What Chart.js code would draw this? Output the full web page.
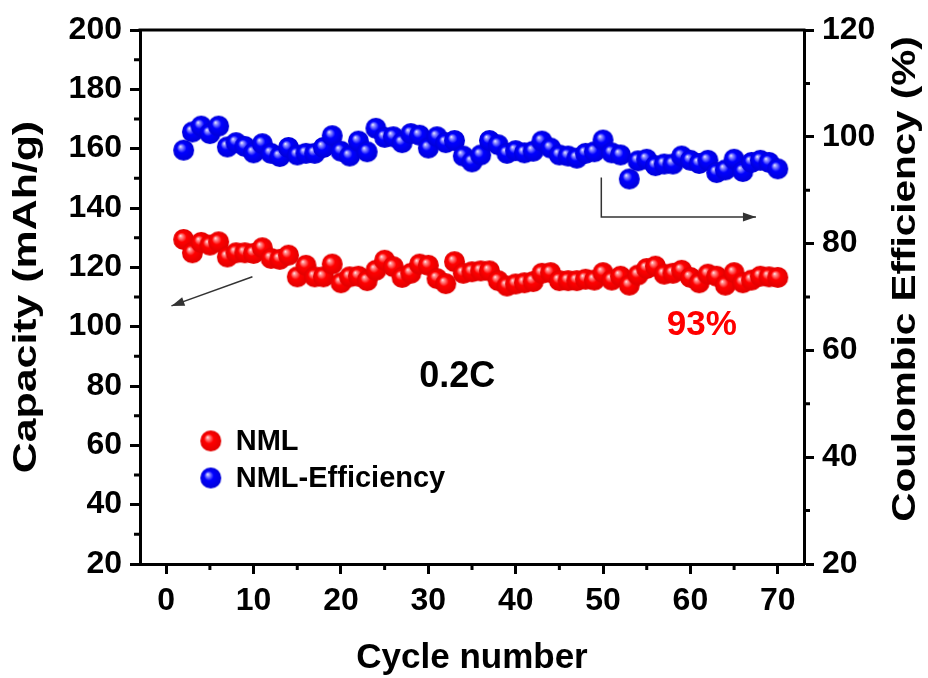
<!DOCTYPE html>
<html>
<head>
<meta charset="utf-8">
<script src="https://cdn.jsdelivr.net/npm/chart.js@4.4.0/dist/chart.umd.min.js"></script>
<style>
  html, body { margin: 0; padding: 0; background: #fff; }
  #wrap { width: 928px; height: 678px; }
</style>
</head>
<body>
<div id="wrap"><canvas id="graphCanvas" width="928" height="678"></canvas></div>
<script>
// ---------------- DATA ----------------
const cycles = [2,3,4,5,6,7,8,9,10,11,12,13,14,15,16,17,18,19,20,21,22,23,24,25,26,27,28,29,30,31,32,33,34,35,36,
  37,38,39,40,41,42,43,44,45,46,47,48,49,50,51,52,53,54,55,56,57,58,59,60,61,62,63,64,65,66,67,68,69,70];

const capacity = [129.4,124.9,128.4,127.5,128.6,123.5,124.9,124.9,124.7,126.6,123.0,122.7,124.1,116.8,120.7,116.8,116.8,121.1,114.8,116.8,
  117.0,115.5,119.0,122.4,120.2,116.6,118.0,121.1,120.7,116.2,114.5,121.9,118.0,118.5,118.8,
  118.8,115.5,113.7,114.4,114.8,115.2,118.0,118.2,115.5,115.5,115.5,116.0,115.7,118.2,115.7,
  117.0,114.0,117.4,119.6,120.4,117.7,118.0,119.0,116.6,114.8,117.7,117.0,114.0,118.2,114.8,115.7,117.0,116.8,116.6];

const efficiency = [97.5,100.9,102.0,100.6,102.0,98.1,98.9,98.2,97.0,98.7,96.9,96.3,98.0,96.6,96.9,96.9,98.0,100.2,97.3,96.4,
  99.2,97.2,101.6,99.9,100.0,98.9,100.6,100.3,97.9,100.0,98.9,99.3,96.4,95.3,96.6,
  99.3,98.5,96.9,97.4,97.0,97.3,99.2,97.9,96.6,96.4,96.0,96.9,97.2,99.4,97.0,
  96.6,92.1,95.5,95.8,94.6,94.9,94.9,96.4,95.6,95.0,95.6,93.3,93.8,95.8,93.5,95.2,95.6,95.2,94.0];

const xMinor = [5,15,25,35,45,55,65];
const yMinor = [30,50,70,90,110,130,150,170,190];
const y2Minor = [30,50,70,90,110];

// ---------------- BALL MARKERS ----------------
function makeBall(r, hi, mid, edge) {
    const s = Math.ceil(2 * r) + 2;
    const c = document.createElement('canvas');
    c.width = c.height = s;
    const g = c.getContext('2d');
    const cx = s / 2, cy = s / 2;
    const grd = g.createRadialGradient(cx - r * 0.32, cy - r * 0.36, 0, cx, cy, r);
    grd.addColorStop(0, '#ffffff');
    grd.addColorStop(0.12, hi);
    grd.addColorStop(0.45, mid);
    grd.addColorStop(1, edge);
    g.fillStyle = grd;
    g.beginPath();
    g.arc(cx, cy, r, 0, Math.PI * 2);
    g.fill();
    return c;
}
const redBall = makeBall(10.5, '#ffa0a0', '#ff0000', '#e00000');
const blueBall = makeBall(10.5, '#a8a8ff', '#0000ff', '#0000d8');

// ---------------- SETUP BLOCK ----------------
const data = {
    datasets: [{
        label: 'NML',
        data: cycles.map((c, i) => ({ x: c, y: capacity[i] })),
        yAxisID: 'y',
        pointStyle: redBall,
        showLine: false
    }, {
        label: 'NML-Efficiency',
        data: cycles.map((c, i) => ({ x: c, y: efficiency[i] })),
        yAxisID: 'y2',
        pointStyle: blueBall,
        showLine: false
    }]
};

const tickFont = { family: 'Liberation Sans', weight: 'bold', size: 32 };
const gridOpts = { drawOnChartArea: false, drawTicks: true, tickLength: 10, tickWidth: 3, tickColor: '#000' };
const borderOpts = { display: true, width: 3, color: '#000' };

// rotated title, stretched along its length like the original
function sideTitle(ctx, text, x, y, stretch) {
    ctx.save();
    ctx.translate(x, y);
    ctx.rotate(-Math.PI / 2);
    ctx.scale(stretch, 1);
    ctx.fillText(text, 0, 0);
    ctx.restore();
}

// draws frame top, minor ticks, titles, legend and annotations
const extras = {
    id: 'extras',
    afterDraw(chart) {
        const ctx = chart.ctx;
        const a = chart.chartArea;
        const sx = chart.scales.x, sy = chart.scales.y, sy2 = chart.scales.y2;
        ctx.save();
        ctx.strokeStyle = '#000';
        ctx.lineWidth = 3;
        ctx.beginPath();
        ctx.moveTo(a.left - 1.5, a.top);
        ctx.lineTo(a.right + 1.5, a.top);
        ctx.stroke();

        // minor ticks
        ctx.beginPath();
        xMinor.forEach(v => { const p = sx.getPixelForValue(v); ctx.moveTo(p, a.bottom); ctx.lineTo(p, a.bottom + 6); });
        yMinor.forEach(v => { const p = sy.getPixelForValue(v); ctx.moveTo(a.left, p); ctx.lineTo(a.left - 6, p); });
        y2Minor.forEach(v => { const p = sy2.getPixelForValue(v); ctx.moveTo(a.right, p); ctx.lineTo(a.right + 6, p); });
        ctx.stroke();

        // axis titles
        ctx.fillStyle = '#000';
        ctx.textAlign = 'center';
        ctx.textBaseline = 'middle';
        ctx.font = 'bold 35px "Liberation Sans"';
        ctx.fillText('Cycle number', (a.left + a.right) / 2, 658);
        ctx.font = 'bold 34px "Liberation Sans"';
        sideTitle(ctx, 'Capacity (mAh/g)', 27, (a.top + a.bottom) / 2, 1.26);
        sideTitle(ctx, 'Coulombic Efficiency (%)', 906, 279, 1.19);

        // labels in the plot
        ctx.font = 'bold 36px "Liberation Sans"';
        ctx.fillText('0.2C', sx.getPixelForValue(33.3), sy.getPixelForValue(83));
        ctx.fillStyle = '#ff0000';
        ctx.font = 'bold 35px "Liberation Sans"';
        ctx.fillText('93%', sx.getPixelForValue(61.3), sy.getPixelForValue(100.6));

        // legend
        ctx.fillStyle = '#000';
        ctx.textAlign = 'left';
        ctx.font = 'bold 29px "Liberation Sans"';
        const legendRows = [[redBall, 61.5], [blueBall, 49.0]];
        chart.data.datasets.forEach((ds, i) => {
            const img = legendRows[i][0];
            const px = sx.getPixelForValue(5.1), py = sy.getPixelForValue(legendRows[i][1]);
            ctx.drawImage(img, px - img.width / 2, py - img.height / 2);
            ctx.fillText(ds.label, px + 25, py + 1);
        });

        // arrows
        ctx.strokeStyle = '#333';
        ctx.fillStyle = '#333';
        ctx.lineWidth = 1.5;
        const arrow = (pts) => {
            ctx.beginPath();
            ctx.moveTo(pts[0][0], pts[0][1]);
            for (let k = 1; k < pts.length; k++) ctx.lineTo(pts[k][0], pts[k][1]);
            ctx.stroke();
            const [x0, y0] = pts[pts.length - 2], [x1, y1] = pts[pts.length - 1];
            const ang = Math.atan2(y1 - y0, x1 - x0);
            ctx.beginPath();
            ctx.moveTo(x1, y1);
            ctx.lineTo(x1 - 13 * Math.cos(ang) + 4.5 * Math.sin(ang), y1 - 13 * Math.sin(ang) - 4.5 * Math.cos(ang));
            ctx.lineTo(x1 - 13 * Math.cos(ang) - 4.5 * Math.sin(ang), y1 - 13 * Math.sin(ang) + 4.5 * Math.cos(ang));
            ctx.closePath();
            ctx.fill();
        };
        arrow([[sx.getPixelForValue(9.87), sy.getPixelForValue(116.8)],
               [sx.getPixelForValue(0.6), sy.getPixelForValue(107.0)]]);
        arrow([[sx.getPixelForValue(49.8), sy2.getPixelForValue(92.4)],
               [sx.getPixelForValue(49.8), sy2.getPixelForValue(85.0)],
               [sx.getPixelForValue(67.5), sy2.getPixelForValue(85.0)]]);
        ctx.restore();
    }
};

// ---------------- CONFIG BLOCK ----------------
const config = {
    type: 'scatter',
    data,
    options: {
        responsive: false,
        animation: false,
        layout: { padding: { top: 30, left: 0, right: 0, bottom: 0 } },
        plugins: {
            legend: { display: false },
            tooltip: { enabled: false }
        },
        scales: {
            x: {
                type: 'linear',
                min: -3,
                max: 73,
                afterFit: s => { s.height = 114; },
                ticks: { stepSize: 10, includeBounds: false, color: '#000', font: tickFont, padding: 8, maxRotation: 0 },
                grid: gridOpts,
                border: borderOpts
            },
            y: {
                position: 'left',
                min: 20,
                max: 200,
                afterFit: s => { s.width = 140; },
                ticks: { stepSize: 20, color: '#000', font: tickFont, padding: 8 },
                grid: gridOpts,
                border: borderOpts
            },
            y2: {
                position: 'right',
                min: 20,
                max: 120,
                afterFit: s => { s.width = 124; },
                ticks: { stepSize: 20, color: '#000', font: tickFont, padding: 8 },
                grid: gridOpts,
                border: borderOpts
            }
        }
    },
    plugins: [extras]
};

// ---------------- RENDER BLOCK ----------------
const graphCanvas = new Chart(
    document.getElementById('graphCanvas').getContext('2d'),
    config
);
</script>
</body>
</html>
